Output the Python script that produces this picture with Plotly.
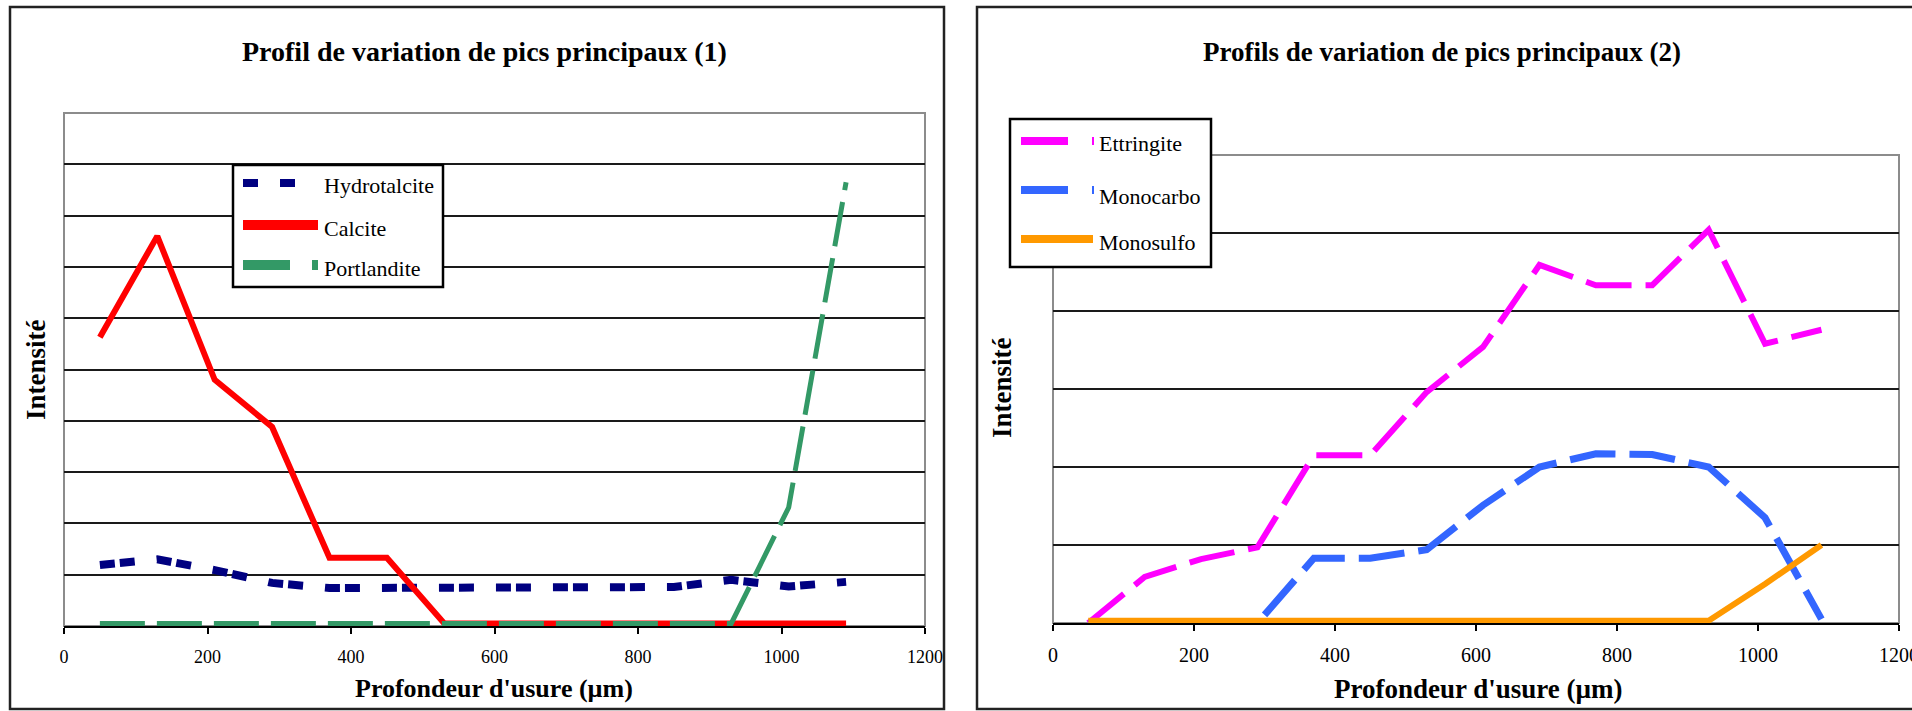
import plotly.graph_objects as go

W, H = 1912, 711

# Wear depth (µm) at which each profile was measured
depth = [50, 130, 210, 290, 370, 450, 530, 610, 690, 770, 850, 930, 1010, 1090]

# Panel (1): main peak intensities (grid units)
hydrotalcite = [1.19, 1.30, 1.09, 0.84, 0.74, 0.74, 0.74, 0.74, 0.74, 0.74, 0.76, 0.90, 0.77, 0.86]
calcite = [5.63, 7.60, 4.80, 3.88, 1.33, 1.33, 0.05, 0.05, 0.05, 0.05, 0.05, 0.05, 0.05, 0.05]
portlandite = [0.05, 0.05, 0.05, 0.05, 0.05, 0.05, 0.05, 0.05, 0.05, 0.05, 0.05, 0.05, 2.31, 8.65]

# Panel (2): main peak intensities (grid units)
ettringite = [0.0, 0.59, 0.82, 0.97, 2.15, 2.15, 2.96, 3.54, 4.59, 4.33, 4.33, 5.04, 3.58, 3.76]
monocarbo = [0.0, 0.0, 0.0, 0.0, 0.83, 0.83, 0.94, 1.51, 2.00, 2.17, 2.16, 2.00, 1.35, 0.05]
monosulfo = [0.03, 0.03, 0.03, 0.03, 0.03, 0.03, 0.03, 0.03, 0.03, 0.03, 0.03, 0.03, 0.50, 1.00]

x_ticks = [0, 200, 400, 600, 800, 1000, 1200]

SERIF = "Liberation Serif"


def px(x):
    return x / W


def py(y):
    return 1 - y / H


fig = go.Figure()

# ---- panel (1) traces
fig.add_trace(go.Scatter(x=depth, y=hydrotalcite, mode="lines", xaxis="x", yaxis="y",
                         line=dict(color="#000080", width=8, dash="15px,5px,15px,22px")))
fig.add_trace(go.Scatter(x=depth, y=calcite, mode="lines", xaxis="x", yaxis="y",
                         line=dict(color="#FF0000", width=6)))
fig.add_trace(go.Scatter(x=depth, y=portlandite, mode="lines", xaxis="x", yaxis="y",
                         line=dict(color="#339966", width=5, dash="45px,12px")))

# ---- panel (2) traces
fig.add_trace(go.Scatter(x=depth, y=ettringite, mode="lines", xaxis="x2", yaxis="y2",
                         line=dict(color="#FF00FF", width=6, dash="46px,14px")))
fig.add_trace(go.Scatter(x=depth, y=monocarbo, mode="lines", xaxis="x2", yaxis="y2",
                         line=dict(color="#3366FF", width=7, dash="46px,14px")))
fig.add_trace(go.Scatter(x=depth, y=monosulfo, mode="lines", xaxis="x2", yaxis="y2",
                         line=dict(color="#FF9900", width=6)))

xaxis_common = dict(range=[0, 1200], tickvals=x_ticks, ticks="outside", ticklen=6,
                    tickwidth=2, tickcolor="black", showline=True, linecolor="black",
                    linewidth=2, showgrid=False, zeroline=False, fixedrange=True,
                    ticklabelstandoff=7, automargin=False, ticklabeloverflow="allow")
yaxis_common = dict(showticklabels=False, ticks="", showgrid=True, gridcolor="#1a1a1a",
                    gridwidth=2, showline=False, zeroline=False, fixedrange=True,
                    automargin=False)

fig.update_layout(
    width=W, height=H, margin=dict(l=0, r=0, t=0, b=0, autoexpand=False),
    paper_bgcolor="white", plot_bgcolor="rgba(0,0,0,0)",
    showlegend=False,
    xaxis=dict(domain=[px(64), px(925)], anchor="y",
               tickfont=dict(family=SERIF, size=18, color="black"), **xaxis_common),
    yaxis=dict(domain=[py(626), py(113)], anchor="x", range=[0, 10],
               tickvals=[1, 2, 3, 4, 5, 6, 7, 8, 9], **yaxis_common),
    xaxis2=dict(domain=[px(1053), px(1899)], anchor="y2",
                tickfont=dict(family=SERIF, size=20, color="black"), **xaxis_common),
    yaxis2=dict(domain=[py(623), py(155)], anchor="x2", range=[0, 6],
                tickvals=[1, 2, 3, 4, 5], **yaxis_common),
)

shapes = []
# outer chart frames
shapes.append(dict(type="rect", xref="paper", yref="paper", x0=px(10), x1=px(944),
                   y0=py(709), y1=py(7), line=dict(color="#222", width=2.5), layer="below"))
shapes.append(dict(type="rect", xref="paper", yref="paper", x0=px(977), x1=px(1940),
                   y0=py(709), y1=py(7), line=dict(color="#222", width=2.5), layer="below"))
# plot-area borders
for xd, yd in (("x domain", "y domain"), ("x2 domain", "y2 domain")):
    shapes.append(dict(type="rect", xref=xd, yref=yd, x0=0, x1=1, y0=0, y1=1,
                       line=dict(color="#8c8c8c", width=2), layer="below"))


def legend_box(x0, y0, x1, y1):
    shapes.append(dict(type="rect", xref="paper", yref="paper", x0=px(x0), x1=px(x1),
                       y0=py(y1), y1=py(y0), line=dict(color="black", width=2.5),
                       fillcolor="white", layer="above"))


def legend_line(x0, x1, y, color, width, dash="solid"):
    shapes.append(dict(type="line", xref="paper", yref="paper", x0=px(x0), x1=px(x1),
                       y0=py(y), y1=py(y), line=dict(color=color, width=width, dash=dash),
                       layer="above"))


# legend (1)
legend_box(233, 165, 443, 287)
legend_line(243, 296, 183, "#000080", 8, "15px,22px")
legend_line(243, 318, 225, "#FF0000", 10)
legend_line(243, 318, 265, "#339966", 10, "47px,22px")
# legend (2)
legend_box(1010, 119, 1211, 267)
legend_line(1021, 1094, 141, "#FF00FF", 8, "47px,24px")
legend_line(1021, 1094, 190, "#3366FF", 8, "47px,24px")
legend_line(1021, 1093, 239, "#FF9900", 8)

fig.update_layout(shapes=shapes)

ann = []


def text(x, y, s, size, bold=False, xanchor="center", angle=0):
    ann.append(dict(x=px(x), y=py(y), xref="paper", yref="paper", text=s, showarrow=False,
                    xanchor=xanchor, yanchor="middle", textangle=angle,
                    font=dict(family=SERIF, size=size, color="black",
                              weight="bold" if bold else "normal")))


# titles
text(484, 52, "Profil de variation de pics principaux (1)", 28, True)
text(1442, 52, "Profils de variation de pics principaux (2)", 27, True)
# axis titles
text(494, 688, "Profondeur d'usure (µm)", 26, True)
text(1478, 689, "Profondeur d'usure (µm)", 27, True)
text(36, 370, "Intensité", 27, True, angle=-90)
text(1002, 387, "Intensité", 27, True, angle=-90)
# legend labels
text(322, 185, "Hydrotalcite", 22, xanchor="left")
text(322, 228, "Calcite", 22, xanchor="left")
text(322, 268, "Portlandite", 22, xanchor="left")
text(1097, 143, "Ettringite", 22, xanchor="left")
text(1097, 196, "Monocarbo", 22, xanchor="left")
text(1097, 242, "Monosulfo", 22, xanchor="left")

fig.update_layout(annotations=ann)

fig.write_html("out.html")
